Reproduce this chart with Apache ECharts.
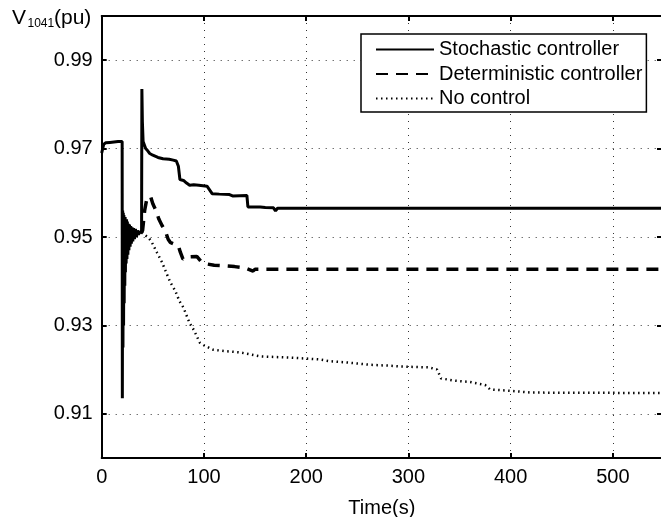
<!DOCTYPE html>
<html>
<head>
<meta charset="utf-8">
<script src="https://cdn.jsdelivr.net/npm/echarts@6/dist/echarts.min.js"></script>
<style>html,body{margin:0;padding:0;background:#fff;}#c{width:661px;height:517px;}</style>
</head>
<body>
<div id="c"></div>
<script>
// Shared transient (0-39 s), [time s, voltage pu]
var commonTransient = [[0,0.9690],[1,0.9700],[2,0.9710],[4,0.9713],[8,0.9714],[12,0.9715],[16,0.9716],[20,0.9716],
  [20.2,0.9135],[20.5,0.9560],[20.8,0.9250],[21.1,0.9555],[21.4,0.9300],[21.7,0.9550],[22.0,0.9350],[22.3,0.9545],
  [22.6,0.9390],[22.9,0.9545],[23.2,0.9420],[23.5,0.9540],[23.9,0.9440],[24.3,0.9540],[24.7,0.9450],[25.1,0.9535],
  [25.6,0.9460],[26.1,0.9530],[26.6,0.9470],[27.2,0.9528],[27.8,0.9478],[28.4,0.9525],[29.0,0.9485],[29.7,0.9522],
  [30.4,0.9490],[31.2,0.9520],[32.0,0.9495],[33,0.9518],[34,0.9500],[35,0.9515],[36,0.9505],[37,0.9512],[38,0.9508],[39,0.9510]];
var stochastic = [[39.3,0.9835],[39.8,0.9760],[40.5,0.9716],[41.5,0.9712],[43,0.9700],[45,0.9695],[47,0.9689],[50,0.9685],
  [55,0.9680],[60,0.9677],[66,0.9676],[70,0.9674],[73,0.9672],[75,0.9660],[76.5,0.9630],[80,0.9628],[83,0.9622],[86,0.9617],
  [90,0.9618],[95,0.9617],[103,0.9615],[106,0.9605],[108,0.9598],[115,0.9597],[125,0.9596],[128,0.9593],[142,0.9594],
  [143,0.9568],[155,0.9568],[160,0.9567],[168,0.9566],[170,0.9559],[172,0.9565],[548,0.9565]];
var deterministic = [[40,0.9515],[42,0.9560],[44,0.9585],[46,0.9592],[48,0.9590],[50,0.9575],[53,0.9560],[56,0.9540],
  [59,0.9526],[62,0.9515],[65,0.9495],[67,0.9488],[70,0.9485],[75,0.9480],[77,0.9465],[79.5,0.9450],[85,0.9455],[93,0.9456],
  [97,0.9445],[103,0.9439],[110,0.9436],[119,0.9435],[130,0.9433],[140,0.9430],[148,0.9423],[150,0.9427],[548,0.9427]];
var noControl = [[42,0.9505],[46,0.9498],[49,0.9488],[54,0.9465],[59,0.9443],[63,0.9420],[67,0.9398],[72,0.9378],[76,0.9355],
  [80,0.9340],[86,0.9305],[90,0.9290],[96,0.9261],[100,0.9255],[109,0.9245],[120,0.9242],[135,0.9239],[155,0.9230],[184,0.9227],
  [200,0.9225],[213,0.9223],[223,0.9219],[240,0.9216],[262,0.9211],[280,0.9209],[292,0.9207],[320,0.9205],[328,0.9200],
  [332,0.9180],[345,0.9175],[360,0.9172],[375,0.9165],[380,0.9155],[400,0.9152],[420,0.9148],[548,0.9147]];
var yTicks = [0.91,0.93,0.95,0.97,0.99];
var xTicks = [0,100,200,300,400,500];
var seriesNames = ['Stochastic controller','Deterministic controller','No control'];

var FONT = '"Liberation Sans", Arial, sans-serif';
var chart = echarts.init(document.getElementById('c'), null, {renderer:'canvas'});
var gridLine = {show:true, lineStyle:{color:'#333', width:1, type:[1,6]}};
var axLine = {show:true, onZero:false, lineStyle:{color:'#000', width:2}};
var tick = {show:true, inside:true, length:5, lineStyle:{color:'#000', width:2}};
var option = {
  animation:false,
  backgroundColor:'#fff',
  grid:{left:101.7, right:-1, top:16, bottom:59, containLabel:false, outerBoundsMode:'none'},
  graphic:[
    {type:'text', left:12, top:8, style:{text:'V', font:'21px '+FONT, fill:'#000'}},
    {type:'text', left:27.5, top:17.5, style:{text:'1041', font:'12px '+FONT, fill:'#000'}},
    {type:'text', left:54, top:8, style:{text:'(pu)', font:'21px '+FONT, fill:'#000'}}
  ],
  legend:{
    orient:'vertical', left:361, top:34,
    padding:[5.5,4,3.5,14], itemGap:4.5, itemWidth:58, itemHeight:16,
    backgroundColor:'#fff', borderColor:'#000', borderWidth:1.5, borderRadius:0,
    itemStyle:{opacity:0},
    textStyle:{fontFamily:FONT, fontSize:20, color:'#000'},
    data:seriesNames
  },
  xAxis:[
    {type:'value', min:0, max:548, interval:100, position:'bottom',
     name:'Time(s)', nameLocation:'middle', nameGap:40,
     nameTextStyle:{fontFamily:FONT, fontSize:20, color:'#000'},
     axisLine:axLine, axisTick:tick,
     axisLabel:{fontFamily:FONT, fontSize:20, color:'#000', margin:9, showMaxLabel:false,
       formatter:function(v){return xTicks.indexOf(v)>=0 ? String(v) : '';}},
     splitLine:gridLine},
    {type:'value', min:0, max:548, interval:100, position:'top',
     axisLine:axLine, axisTick:tick, axisLabel:{show:false}, splitLine:{show:false}}
  ],
  yAxis:[
    {type:'value', min:0.9, max:1.0, position:'left',
     axisLine:axLine,
     axisTick:{show:true, inside:true, length:5, customValues:yTicks, lineStyle:{color:'#000', width:2}},
     axisLabel:{fontFamily:FONT, fontSize:20, color:'#000', margin:9, customValues:yTicks,
       formatter:function(v){return v.toFixed(2);}},
     splitLine:gridLine},
    {type:'value', min:0.9, max:1.0, position:'right',
     axisLine:axLine,
     axisTick:{show:true, inside:true, length:5, customValues:yTicks, lineStyle:{color:'#000', width:2}},
     axisLabel:{show:false, customValues:yTicks}, splitLine:{show:false}}
  ],
  series:[
    {name:seriesNames[0], type:'line', data:commonTransient.concat(stochastic), showSymbol:false, symbol:'none',
     lineStyle:{color:'#000', width:3, type:'solid'}, itemStyle:{color:'#000'}, z:5},
    {name:seriesNames[1], type:'line', data:[[39,0.951]].concat(deterministic), showSymbol:false, symbol:'none',
     lineStyle:{color:'#000', width:3.5, type:[12,8]}, itemStyle:{color:'#000'}, z:4},
    {name:seriesNames[2], type:'line', data:[[39,0.951]].concat(noControl), showSymbol:false, symbol:'none',
     lineStyle:{color:'#000', width:2.5, type:[1.5,3.5]}, itemStyle:{color:'#000'}, z:3}
  ]
};
chart.setOption(option);
</script>
</body>
</html>
